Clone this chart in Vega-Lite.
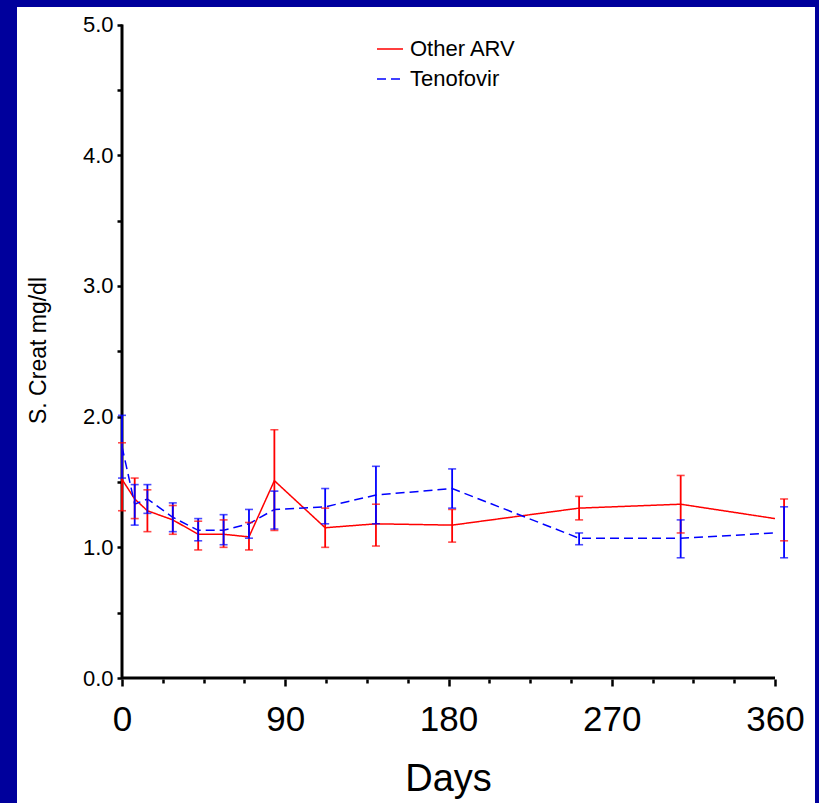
{
  "$schema": "https://vega.github.io/schema/vega-lite/v6.json",
  "width": 798,
  "height": 796,
  "autosize": {"type": "none"},
  "padding": {"left": 17, "top": 7, "right": 4, "bottom": 0},
  "background": "#00009C",
  "config": {
    "font": "Liberation Sans",
    "view": {"fill": "white", "stroke": null},
    "axis": {"grid": false},
    "legend": {
      "symbolType": "stroke",
      "symbolSize": 676,
      "symbolStrokeWidth": 1.5,
      "labelFontSize": 22,
      "labelColor": "black",
      "labelOffset": 6,
      "rowPadding": 5,
      "labelLimit": 300
    }
  },
  "datasets": {
    "creat": [
      {"series": "Other ARV", "day": 0, "bar_day": 0, "value": 1.52, "lo": 1.28, "hi": 1.80},
      {"series": "Other ARV", "day": 7, "bar_day": 7, "value": 1.37, "lo": 1.22, "hi": 1.53},
      {"series": "Other ARV", "day": 14, "bar_day": 14, "value": 1.28, "lo": 1.12, "hi": 1.44},
      {"series": "Other ARV", "day": 28, "bar_day": 28, "value": 1.21, "lo": 1.10, "hi": 1.32},
      {"series": "Other ARV", "day": 42, "bar_day": 42, "value": 1.10, "lo": 0.98, "hi": 1.20},
      {"series": "Other ARV", "day": 56, "bar_day": 56, "value": 1.10, "lo": 1.00, "hi": 1.21},
      {"series": "Other ARV", "day": 70, "bar_day": 70, "value": 1.08, "lo": 0.98, "hi": 1.19},
      {"series": "Other ARV", "day": 84, "bar_day": 84, "value": 1.51, "lo": 1.13, "hi": 1.90},
      {"series": "Other ARV", "day": 112, "bar_day": 112, "value": 1.15, "lo": 1.00, "hi": 1.30},
      {"series": "Other ARV", "day": 140, "bar_day": 140, "value": 1.18, "lo": 1.01, "hi": 1.33},
      {"series": "Other ARV", "day": 182, "bar_day": 182, "value": 1.17, "lo": 1.04, "hi": 1.29},
      {"series": "Other ARV", "day": 252, "bar_day": 252, "value": 1.30, "lo": 1.21, "hi": 1.39},
      {"series": "Other ARV", "day": 308, "bar_day": 308, "value": 1.33, "lo": 1.11, "hi": 1.55},
      {"series": "Other ARV", "day": 360, "bar_day": 365, "value": 1.22, "lo": 1.05, "hi": 1.37},
      {"series": "Tenofovir", "day": 0, "bar_day": 0, "value": 1.77, "lo": 1.53, "hi": 2.01},
      {"series": "Tenofovir", "day": 7, "bar_day": 7, "value": 1.33, "lo": 1.17, "hi": 1.48},
      {"series": "Tenofovir", "day": 14, "bar_day": 14, "value": 1.37, "lo": 1.26, "hi": 1.48},
      {"series": "Tenofovir", "day": 28, "bar_day": 28, "value": 1.23, "lo": 1.12, "hi": 1.34},
      {"series": "Tenofovir", "day": 42, "bar_day": 42, "value": 1.13, "lo": 1.05, "hi": 1.22},
      {"series": "Tenofovir", "day": 56, "bar_day": 56, "value": 1.13, "lo": 1.02, "hi": 1.25},
      {"series": "Tenofovir", "day": 70, "bar_day": 70, "value": 1.18, "lo": 1.07, "hi": 1.29},
      {"series": "Tenofovir", "day": 84, "bar_day": 84, "value": 1.29, "lo": 1.14, "hi": 1.43},
      {"series": "Tenofovir", "day": 112, "bar_day": 112, "value": 1.31, "lo": 1.18, "hi": 1.45},
      {"series": "Tenofovir", "day": 140, "bar_day": 140, "value": 1.40, "lo": 1.18, "hi": 1.62},
      {"series": "Tenofovir", "day": 182, "bar_day": 182, "value": 1.45, "lo": 1.30, "hi": 1.60},
      {"series": "Tenofovir", "day": 252, "bar_day": 252, "value": 1.07, "lo": 1.02, "hi": 1.11},
      {"series": "Tenofovir", "day": 308, "bar_day": 308, "value": 1.07, "lo": 0.92, "hi": 1.21},
      {"series": "Tenofovir", "day": 360, "bar_day": 365, "value": 1.11, "lo": 0.92, "hi": 1.31}
    ]
  },
  "layer": [
    {
      "data": {"values": [{}]},
      "mark": {"type": "rule", "color": "black", "strokeWidth": 3},
      "encoding": {
        "x": {"datum": 0, "type": "quantitative"},
        "y": {"datum": 0, "type": "quantitative"},
        "y2": {"datum": 5}
      }
    },
    {
      "data": {"values": [{}]},
      "mark": {"type": "rule", "color": "black", "strokeWidth": 3},
      "encoding": {
        "x": {"datum": 0, "type": "quantitative"},
        "x2": {"datum": 360},
        "y": {"datum": 0, "type": "quantitative"}
      }
    },
    {
      "data": {"name": "creat"},
      "mark": {"type": "line", "strokeWidth": 1.5},
      "encoding": {
        "x": {
          "field": "day",
          "type": "quantitative",
          "scale": {"domain": [-57.89, 382.05], "nice": false, "zero": false},
          "axis": {
            "orient": "bottom",
            "offset": -124,
            "domain": false,
            "values": [0, 22.5, 45, 67.5, 90, 112.5, 135, 157.5, 180, 202.5, 225, 247.5, 270, 292.5, 315, 337.5, 360],
            "labelExpr": "datum.value % 90 === 0 ? datum.label : ''",
            "tickSize": {"condition": {"test": "datum.value % 90 === 0", "value": 7}, "value": 4},
            "tickWidth": 2.5,
            "tickColor": "black",
            "labelFontSize": 35,
            "labelColor": "black",
            "labelPadding": 16,
            "labelOverlap": false,
            "labelFlush": false,
            "labelBound": false,
            "title": "Days",
            "titleFontSize": 38,
            "titleFontWeight": "normal",
            "titleColor": "black",
            "titleX": 431,
            "titleY": 111,
            "titleAlign": "center",
            "titleBaseline": "alphabetic"
          }
        },
        "y": {
          "field": "value",
          "type": "quantitative",
          "scale": {"domain": [-0.956, 5.134], "nice": false, "zero": false},
          "axis": {
            "orient": "left",
            "offset": -105,
            "domain": false,
            "values": [0, 0.25, 0.5, 0.75, 1, 1.25, 1.5, 1.75, 2, 2.25, 2.5, 2.75, 3, 3.25, 3.5, 3.75, 4, 4.25, 4.5, 4.75, 5],
            "labelExpr": "datum.value % 1 === 0 ? format(datum.value, '.1f') : ''",
            "tickSize": 5,
            "tickWidth": 2.5,
            "tickColor": "black",
            "labelFontSize": 22,
            "labelColor": "black",
            "labelPadding": 4,
            "labelOverlap": false,
            "labelFlush": false,
            "labelBound": false,
            "title": "S. Creat mg/dl",
            "titleFontSize": 23,
            "titleFontWeight": "normal",
            "titleColor": "black",
            "titleAngle": -90,
            "titleX": -84,
            "titleY": 343,
            "titleAlign": "center",
            "titleBaseline": "middle"
          }
        },
        "color": {
          "field": "series",
          "type": "nominal",
          "scale": {"domain": ["Other ARV", "Tenofovir"], "range": ["#FF0000", "#0000FF"]},
          "legend": {"orient": "none", "legendX": 359, "legendY": 28, "title": null}
        },
        "strokeDash": {
          "field": "series",
          "type": "nominal",
          "scale": {"domain": ["Other ARV", "Tenofovir"], "range": [[1, 0], [9, 5]]},
          "legend": {"orient": "none", "legendX": 359, "legendY": 28, "title": null}
        }
      }
    },
    {
      "data": {"name": "creat"},
      "mark": {"type": "rule", "strokeWidth": 1.8},
      "encoding": {
        "x": {"field": "bar_day", "type": "quantitative", "title": "Days"},
        "y": {"field": "lo", "type": "quantitative", "title": "S. Creat mg/dl"},
        "y2": {"field": "hi"},
        "color": {"field": "series", "type": "nominal", "legend": null}
      }
    },
    {
      "data": {"name": "creat"},
      "mark": {"type": "tick", "orient": "horizontal", "size": 8, "thickness": 1.6},
      "encoding": {
        "x": {"field": "bar_day", "type": "quantitative", "title": "Days"},
        "y": {"field": "hi", "type": "quantitative", "title": "S. Creat mg/dl"},
        "color": {"field": "series", "type": "nominal", "legend": null}
      }
    },
    {
      "data": {"name": "creat"},
      "mark": {"type": "tick", "orient": "horizontal", "size": 8, "thickness": 1.6},
      "encoding": {
        "x": {"field": "bar_day", "type": "quantitative", "title": "Days"},
        "y": {"field": "lo", "type": "quantitative", "title": "S. Creat mg/dl"},
        "color": {"field": "series", "type": "nominal", "legend": null}
      }
    }
  ]
}
